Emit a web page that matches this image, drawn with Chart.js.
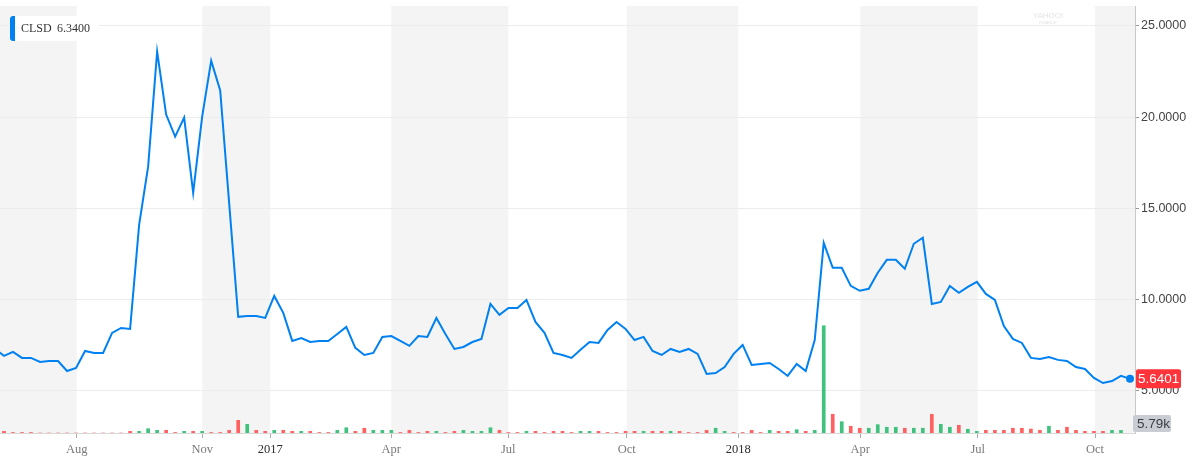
<!DOCTYPE html>
<html><head><meta charset="utf-8">
<script src="https://cdn.jsdelivr.net/npm/chart.js@4.4.0/dist/chart.umd.min.js"></script>
<style>html,body{margin:0;padding:0;background:#fff;overflow:hidden}#wrap{width:1190px;height:458px;position:relative}</style>
</head><body><div id="wrap"><canvas id="c" width="1190" height="458"></canvas></div>
<script>
const symbol = 'CLSD';
const legendValue = '6.3400';
// weekly closing prices (index 0 is just off the left edge)
const prices = [7.28,6.90,7.12,6.79,6.79,6.57,6.62,6.62,6.07,6.24,
7.17,7.06,7.06,8.16,8.43,8.38,14.09,17.28,23.60,20.14,
18.93,19.97,15.85,20.03,23.10,21.46,15.25,9.04,9.09,9.09,
8.98,10.19,9.26,7.72,7.88,7.66,7.72,7.72,8.10,8.49,
7.34,6.95,7.06,7.94,7.99,7.72,7.45,7.99,7.94,8.98,
8.10,7.28,7.39,7.66,7.83,9.75,9.15,9.53,9.53,9.97,
8.76,8.16,7.06,6.95,6.79,7.23,7.66,7.61,8.32,8.76,
8.38,7.77,7.94,7.17,6.95,7.28,7.12,7.28,7.01,5.91,
5.96,6.29,7.01,7.50,6.40,6.46,6.51,6.18,5.80,6.46,
6.07,7.77,13.10,11.73,11.73,10.74,10.47,10.58,11.46,12.17,
12.17,11.68,13.05,13.38,9.75,9.86,10.74,10.36,10.69,10.96,
10.30,9.97,8.54,7.83,7.61,6.79,6.73,6.84,6.68,6.62,
6.29,6.18,5.69,5.41,5.52,5.80,5.6401];
// weekly volume, thousands
const volumes = [0,1.0,0.3,0.3,0.3,0,0,0,0,0,
0,0,0,0,0,1.0,1.0,2.6,1.6,1.6,
0.3,1.0,1.0,1.0,0.3,0.3,1.6,7.7,5.3,1.6,
1.0,1.6,1.6,1.0,1.0,1.0,0.3,0.3,1.6,3.2,
1.0,2.9,1.6,1.6,1.6,0.3,1.6,0.3,1.0,1.0,
0.3,1.0,1.6,1.0,1.0,3.2,1.6,0.3,0.3,1.0,
1.0,0.3,1.0,1.0,0.3,1.0,1.0,1.0,0.3,0.3,
1.0,1.0,1.0,1.0,1.0,1.0,1.0,0.3,0.3,1.6,
2.9,1.0,0.3,0.3,1.6,0.3,1.6,1.0,1.0,2.0,
1.0,1.6,65.3,11.4,6.9,4.1,2.9,2.9,5.1,3.5,
3.5,2.9,2.9,2.9,11.4,5.3,3.5,4.7,2.3,1.0,
1.6,1.6,1.6,2.9,2.9,2.4,1.6,4.1,1.6,3.5,
1.6,1.0,1.0,1.0,1.6,1.6,null];
const volDir = ['d','d','d','d','d','d','d','d','d','d',
'd','d','d','d','d','d','u','u','u','d',
'd','u','d','u','d','d','d','d','u','d',
'd','u','d','d','u','d','d','d','u','u',
'd','d','u','u','u','d','d','d','d','u',
'd','d','u','u','u','u','d','d','d','u',
'd','d','d','d','d','u','u','d','d','d',
'd','d','u','d','d','u','d','d','d','d',
'u','u','d','d','d','d','u','d','d','u',
'd','u','u','d','u','d','d','u','u','u',
'u','d','u','u','d','u','u','d','u','u',
'd','d','d','d','d','d','d','u','d','d',
'd','d','d','d','u','u','u'];
const lastVolume = 5.79;
const lastVolumeLabel = '5.79k';
const tickPos = [9.07,23.01,30.56,43.99,56.98,70.13,82.52,96.06,109.09,122.12];
const tickLabels = ['Aug','Nov','2017','Apr','Jul','Oct','2018','Apr','Jul','Oct'];
const priceTicks = [5,10,15,20,25];

const BLUE = '#0081f2', UP = 'rgb(62,194,125)', DOWN = 'rgb(255,96,96)';
const last = prices.length - 1;

const overlay = {
  id: 'overlay',
  beforeDraw(chart) {
    const {ctx, chartArea: a, scales: {x}} = chart;
    const b = [x.min, ...tickPos, x.max];
    ctx.save();
    ctx.fillStyle = '#f4f4f4';
    for (let k = 0; k < b.length - 1; k += 2) {
      const x0 = x.getPixelForValue(b[k]), x1 = x.getPixelForValue(b[k + 1]);
      ctx.fillRect(x0, a.top, x1 - x0, a.bottom - a.top);
    }
    ctx.restore();
  },
  afterDraw(chart) {
    const {ctx, chartArea: a, scales} = chart;
    ctx.save();
    // watermark
    ctx.fillStyle = '#e4e4e4';
    ctx.textAlign = 'center'; ctx.textBaseline = 'middle';
    ctx.font = '8px "Liberation Sans"';
    ctx.fillText('YAHOO!', 1048, 16);
    ctx.font = '4px "Liberation Sans"';
    ctx.fillText('FINANCE', 1048, 22.5);
    // legend
    ctx.fillStyle = '#fff';
    ctx.fillRect(10, 16, 89, 25);
    ctx.fillStyle = BLUE;
    ctx.beginPath(); ctx.roundRect(10, 16, 5, 25, [3, 0, 0, 3]); ctx.fill();
    ctx.fillStyle = '#333';
    ctx.textAlign = 'left';
    ctx.font = '12px "Liberation Serif"';
    ctx.fillText(symbol, 21, 28.5);
    ctx.fillText(legendValue, 57, 28.5);
    // price label
    const py = scales.y.getPixelForValue(prices[last]);
    ctx.fillStyle = '#ff333a';
    ctx.beginPath(); ctx.roundRect(a.right + 1, py - 9.5, 45, 19, 2); ctx.fill();
    ctx.fillStyle = '#fff';
    ctx.font = '13.5px "Liberation Sans"';
    ctx.fillText(prices[last].toFixed(4), a.right + 3, py + 0.5);
    // volume label
    const vy = scales.yv.getPixelForValue(lastVolume);
    ctx.fillStyle = '#c9cdd3';
    ctx.beginPath(); ctx.roundRect(a.right - 2, vy - 8.5, 38, 17, 2); ctx.fill();
    ctx.fillStyle = '#3c4046';
    ctx.fillText(lastVolumeLabel, a.right + 2, vy + 0.5);
    ctx.restore();
  }
};

new Chart(document.getElementById('c'), {
  type: 'line',
  data: {
    datasets: [
      {
        type: 'line', order: 0,
        data: prices.map((v, j) => ({x: j, y: v})),
        borderColor: BLUE, borderWidth: 2, tension: 0, fill: false,
        pointRadius: c => c.dataIndex === last ? 4 : 0,
        pointHoverRadius: 0,
        pointBackgroundColor: BLUE, pointBorderWidth: 0,
        yAxisID: 'y'
      },
      {
        type: 'bar', order: 1,
        data: volumes.map((v, j) => ({x: j, y: v})),
        backgroundColor: volDir.map(d => d === 'u' ? UP : DOWN),
        barThickness: 3, borderWidth: 0,
        yAxisID: 'yv'
      }
    ]
  },
  options: {
    responsive: false, animation: false,
    layout: {autoPadding: false, padding: {top: 6, left: 0, right: 0, bottom: 0}},
    plugins: {legend: {display: false}, tooltip: {enabled: false}},
    events: [],
    scales: {
      x: {
        type: 'linear', position: 'bottom', min: 0.556, max: 126.555, offset: false,
        afterBuildTicks(s) { s.ticks = tickPos.map(v => ({value: v})); },
        afterFit(s) { s.height = 25; s.paddingLeft = 0; s.paddingRight = 0; },
        ticks: {
          autoSkip: false, maxRotation: 0, minRotation: 0, padding: 4,
          callback: (v, i) => tickLabels[i],
          font: {family: '"Liberation Serif"', size: 12.5},
          color: c => /^\d{4}$/.test(tickLabels[c.index]) ? '#2e2e2e' : '#7a7a7a'
        },
        grid: {drawOnChartArea: false, tickLength: 5, tickColor: '#aaa', offset: false},
        border: {color: '#d8d8d8'}
      },
      y: {
        type: 'linear', position: 'right', min: 2.668, max: 26.097,
        afterBuildTicks(s) { s.ticks = priceTicks.map(v => ({value: v})); },
        afterFit(s) { s.width = 55; s.paddingTop = 0; s.paddingBottom = 0; },
        ticks: {
          padding: 2, callback: v => Number(v).toFixed(4),
          font: {family: '"Liberation Sans"', size: 12.5}, color: '#444'
        },
        grid: {color: '#ececec', tickLength: 4, tickColor: '#999'},
        border: {color: '#c8c8c8'}
      },
      yv: {
        type: 'linear', display: false, min: 0, max: 260
      }
    }
  },
  plugins: [overlay]
});
</script>
</body></html>
